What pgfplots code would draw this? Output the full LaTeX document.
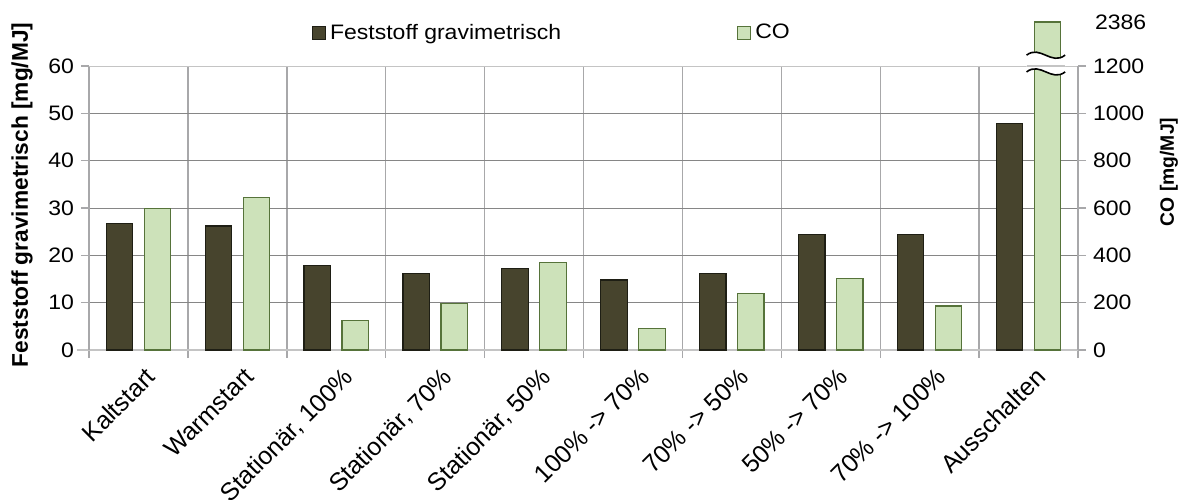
\documentclass[border=0pt]{standalone}
\usepackage{fontspec}
\setmainfont{Liberation Sans}[FakeStretch=1.1]
\newfontfamily\plainfont{Liberation Sans}
\usepackage{pgfplots}
\usepackage{pgfplotstable}
\pgfplotsset{compat=1.18}
\definecolor{darkbar}{RGB}{71,68,45}
\definecolor{darkedge}{RGB}{30,30,20}
\definecolor{lightbar}{RGB}{205,226,186}
\definecolor{lightedge}{RGB}{86,115,58}
\definecolor{hgrid}{RGB}{134,134,134}
\definecolor{vgrid}{RGB}{168,168,170}
\definecolor{axisgray}{RGB}{196,196,196}

% x: category index; fest: Feststoff gravimetrisch [mg/MJ]; co: CO [mg/MJ]
% Ausschalten CO is 2386 mg/MJ; drawn with a broken axis (1386 = displayed height above break)
\pgfplotstableread{
x fest co
0 26.8 599
1 26.2 645
2 17.9 123
3 16.1 196
4 17.2 369
5 14.8 92
6 16.1 238
7 24.4 301
8 24.4 186
9 47.8 1386
}\data

\pgfplotsset{common/.style={
  scale only axis, width=494.5bp, height=142bp,
  xmin=-0.5, xmax=9.5,
  font=\fontsize{10.5}{12}\selectfont,
  /pgf/number format/assume math mode=true,
  /pgf/number format/1000 sep={},
  tick align=outside, major tick length=4bp,
  tick style={vgrid, line width=0.7bp},
},
sqlegend/.style={legend image code/.code={\draw[##1] (0bp,-3.2bp) rectangle (6.5bp,3.2bp);}}
}

\begin{document}
\begin{tikzpicture}
\begin{axis}[common,
  ymin=0, ymax=60, ytick={0,10,...,60},
  axis x line*=bottom, axis y line*=left,
  x axis line style={axisgray, line width=1.3bp, -, shorten <=-6bp, shorten >=-4bp},
  y axis line style={vgrid, line width=0.7bp, -},
  xtick={-0.5,0.5,...,9.5}, xticklabels={},
  ymajorgrids, xmajorgrids,
  every axis x grid/.style={vgrid, line width=0.7bp},
  every axis y grid/.style={hgrid, line width=0.5bp},
  extra x ticks={0,1,2,3,4,5,6,7,8,9},
  extra x tick labels={Kaltstart,Warmstart,{Stationär, 100\%},{Stationär, 70\%},{Stationär, 50\%},{100\% -> 70\%},{70\% -> 50\%},{50\% -> 70\%},{70\% -> 100\%},Ausschalten},
  extra x tick style={major tick length=0pt, grid=none, xticklabel style={font=\plainfont\fontsize{12.5}{14}\selectfont, rotate=45, anchor=north east, inner sep=1bp, xshift=-2.5bp, yshift=-6.5bp}},
  ylabel={Feststoff gravimetrisch [mg/MJ]},
  ylabel style={font=\plainfont\fontsize{11.4}{13}\selectfont\bfseries, at={(axis description cs:-0.0677,0.546)}, anchor=center},
]
\addplot[ybar, bar width=0.267, bar shift=-0.192, fill=darkbar, draw=darkedge, line width=0.6bp] table[x=x, y=fest] {\data};
\draw[axisgray, line width=1.3bp] ([xshift=-6bp]axis cs:-0.5,60) -- ([xshift=4bp]axis cs:9.5,60);
\end{axis}
\begin{axis}[common,
  ymin=0, ymax=1200, ytick={0,200,...,1200},
  axis x line=none, axis y line*=right,
  y axis line style={vgrid, line width=0.7bp, -},
  clip=false,
  ylabel={CO [mg/MJ]},
  ylabel style={font=\plainfont\fontsize{9.7}{11}\selectfont\bfseries, at={(axis description cs:1.092,0.627)}, anchor=center},
  legend style={at={(axis description cs:0.469,1.116)}, anchor=center, draw=none, fill=none,
    legend columns=2, /tikz/every even column/.append style={column sep=86bp},
    font=\fontsize{10.5}{12}\selectfont},
]
\addlegendimage{fill=darkbar, draw=darkedge, line width=0.6bp, sqlegend}
\addlegendentry{Feststoff gravimetrisch}
\addplot[ybar, bar width=0.267, bar shift=0.192, fill=lightbar, draw=lightedge, line width=0.6bp, sqlegend] table[x=x, y=co] {\data};
\addlegendentry{CO}
% axis break marks
\fill[white] (axis cs:8.98,1246) .. controls (axis cs:9.12,1290) and (axis cs:9.23,1200) .. (axis cs:9.37,1246)
  -- (axis cs:9.37,1175) .. controls (axis cs:9.23,1130) and (axis cs:9.12,1220) .. (axis cs:8.98,1175) -- cycle;
\draw[axisgray, line width=1.3bp] (axis cs:8.98,1200) -- (axis cs:9.37,1200);
\draw[black, line width=0.8bp] (axis cs:8.98,1246) .. controls (axis cs:9.12,1290) and (axis cs:9.23,1200) .. (axis cs:9.37,1246);
\draw[black, line width=0.8bp] (axis cs:8.98,1175) .. controls (axis cs:9.12,1220) and (axis cs:9.23,1130) .. (axis cs:9.37,1175);
\node[anchor=west, xshift=5bp] at (axis cs:9.5,1386) {2386};
\end{axis}
\pgfresetboundingbox
\path[use as bounding box] (-44.5bp,-75bp) rectangle (545.5bp,175bp);
\end{tikzpicture}
\end{document}
